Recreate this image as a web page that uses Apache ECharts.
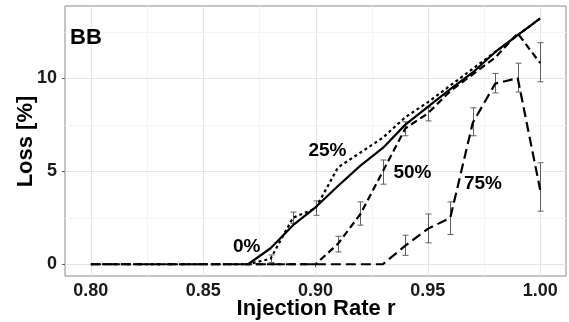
<!DOCTYPE html>
<html>
<head>
<meta charset="utf-8">
<script src="https://cdn.jsdelivr.net/npm/echarts@6/dist/echarts.min.js"></script>
<style>
html,body{margin:0;padding:0;background:#fff;}
#c{width:569px;height:322px;}
</style>
</head>
<body>
<div id="c"></div>
<script>
// ---- data ----
const rates = [0.80,0.81,0.82,0.83,0.84,0.85,0.86,0.87,0.88,0.89,0.90,0.91,0.92,0.93,0.94,0.95,0.96,0.97,0.98,0.99,1.00];
const loss0  = [null,null,null,null,null,null,null,0,0.86,2.1,3.06,4.2,5.3,6.25,7.5,8.45,9.4,10.3,11.4,12.3,13.2];
const loss25 = [0,0,0,0,0,0,0,0,0.3,2.5,3.0,5.2,6.0,6.8,7.9,8.7,9.6,10.5,11.4,12.3,13.2];
const loss50 = [0,0,0,0,0,0,0,0,0,0,0,1.1,2.7,5.0,7.3,8.1,9.3,10.2,11.1,12.4,10.8];
const loss75 = [0,0,0,0,0,0,0,0,0,0,0,0,0,0,1.0,1.9,2.5,7.6,9.7,10.0,4.0];
// error bars: [rate, low, high]
const err25 = [[0.88,0.1,0.5],[0.89,2.2,2.8],[0.90,2.63,3.4]];
const err50 = [[0.91,0.66,1.5],[0.92,2.1,3.35],[0.93,4.3,5.6],[0.94,6.9,7.65],[0.95,7.7,8.44],[1.00,9.8,11.9]];
const err75 = [[0.94,0.48,1.56],[0.95,1.15,2.7],[0.96,1.6,3.35],[0.97,6.9,8.4],[0.98,9.2,10.25],[0.99,9.25,10.8],[1.00,2.85,5.45]];
const xTicks = [0.80,0.85,0.90,0.95,1.00];
const xMinor = [0.825,0.875,0.925,0.975];
const yTicks = [0,5,10];
const yMinor = [2.5,7.5,12.5];
const seriesNames = ['0%','25%','50%','75%'];

// ---- chart ----
const chart = echarts.init(document.getElementById('c'), null, {renderer:'canvas'});
const FONT = '"Liberation Sans", Arial, sans-serif';

function zip(vals){ return rates.map((x,i)=>[x, vals[i]]); }

const gridData = [];
xTicks.forEach(v=>gridData.push([v,'x','major']));
xMinor.forEach(v=>gridData.push([v,'x','minor']));
yTicks.forEach(v=>gridData.push([v,'y','major']));
yMinor.forEach(v=>gridData.push([v,'y','minor']));

function gridRender(params, api){
  const d = gridData[params.dataIndex];
  const cs = params.coordSys;
  const major = d[2]==='major';
  const style = {stroke: major ? '#e6e6e6' : '#f4f4f4', lineWidth: 1};
  if (d[1]==='x'){
    const px = Math.round(api.coord([d[0],0])[0]) + 0.5;
    return {type:'line', shape:{x1:px,y1:cs.y,x2:px,y2:cs.y+cs.height}, style};
  } else {
    const py = Math.round(api.coord([0.9,d[0]])[1]) + 0.5;
    return {type:'line', shape:{x1:cs.x,y1:py,x2:cs.x+cs.width,y2:py}, style};
  }
}

function errRender(params, api){
  const x = api.value(0), lo = api.value(1), hi = api.value(2);
  const p1 = api.coord([x, lo]), p2 = api.coord([x, hi]);
  const cx = Math.round(p1[0]) + 0.5;
  const w = 3;
  const st = {stroke:'#606060', lineWidth:1};
  return {type:'group', children:[
    {type:'line', shape:{x1:cx,y1:p1[1],x2:cx,y2:p2[1]}, style:st},
    {type:'line', shape:{x1:cx-w,y1:p1[1],x2:cx+w,y2:p1[1]}, style:st},
    {type:'line', shape:{x1:cx-w,y1:p2[1],x2:cx+w,y2:p2[1]}, style:st}
  ]};
}

const lineBase = {type:'line', showSymbol:false, symbol:'none', silent:true, z:5, connectNulls:false};

chart.setOption({
  animation:false,
  backgroundColor:'#fff',
  grid:{left:65, right:3, top:6, bottom:46, show:true, borderColor:'#8a8a8a', borderWidth:1, backgroundColor:'transparent'},
  xAxis:{
    type:'value', min:0.7885, max:1.0115,
    axisLine:{show:false},
    splitLine:{show:false},
    axisTick:{show:true, customValues:xTicks, length:3, lineStyle:{color:'#555', width:1}},
    axisLabel:{customValues:xTicks, margin:6, fontFamily:FONT, fontWeight:'bold', fontSize:18, color:'#1a1a1a',
      formatter:v=>v.toFixed(2)}
  },
  yAxis:{
    type:'value', min:-0.63, max:13.87,
    axisLine:{show:false},
    splitLine:{show:false},
    axisTick:{show:true, customValues:yTicks, length:3, lineStyle:{color:'#555', width:1}},
    axisLabel:{customValues:yTicks, margin:8, fontFamily:FONT, fontWeight:'bold', fontSize:18, color:'#1a1a1a',
      formatter:v=>String(Math.round(v))}
  },
  series:[
    {type:'custom', name:'grid', renderItem:gridRender, data:gridData.map((d,i)=>[i]), z:1, silent:true, clip:true},
    {type:'custom', name:'err25', renderItem:errRender, data:err25, z:3, silent:true},
    {type:'custom', name:'err50', renderItem:errRender, data:err50, z:3, silent:true},
    {type:'custom', name:'err75', renderItem:errRender, data:err75, z:3, silent:true},
    Object.assign({}, lineBase, {name:seriesNames[3], data:zip(loss75), lineStyle:{color:'#000', width:2.2, type:[10,5]}}),
    Object.assign({}, lineBase, {name:seriesNames[2], data:zip(loss50), lineStyle:{color:'#000', width:2.2, type:[7,4]}}),
    Object.assign({}, lineBase, {name:seriesNames[1], data:zip(loss25), lineStyle:{color:'#000', width:2.2, type:[3,3]}}),
    Object.assign({}, lineBase, {name:seriesNames[0], data:zip(loss0), lineStyle:{color:'#000', width:2.2, type:'solid'}})
  ],
  graphic:[
    {type:'text', left:null, x:86, y:38, style:{text:'BB', font:'bold 22px '+FONT, fill:'#000', textAlign:'center', textVerticalAlign:'middle'}, z:10},
    {type:'text', x:327.5, y:151, style:{text:'25%', font:'bold 19px '+FONT, fill:'#000', textAlign:'center', textVerticalAlign:'middle'}, z:10},
    {type:'text', x:412.5, y:173, style:{text:'50%', font:'bold 19px '+FONT, fill:'#000', textAlign:'center', textVerticalAlign:'middle'}, z:10},
    {type:'text', x:483, y:183.5, style:{text:'75%', font:'bold 19px '+FONT, fill:'#000', textAlign:'center', textVerticalAlign:'middle'}, z:10},
    {type:'text', x:246.7, y:247, style:{text:'0%', font:'bold 19px '+FONT, fill:'#000', textAlign:'center', textVerticalAlign:'middle'}, z:10},
    {type:'text', x:316, y:309, style:{text:'Injection Rate r', font:'bold 22px '+FONT, fill:'#000', textAlign:'center', textVerticalAlign:'middle'}, z:10},
    {type:'text', x:26, y:141.5, rotation:Math.PI/2, style:{text:'Loss [%]', font:'bold 22px '+FONT, fill:'#000', textAlign:'center', textVerticalAlign:'middle'}, z:10}
  ]
});
</script>
</body>
</html>
